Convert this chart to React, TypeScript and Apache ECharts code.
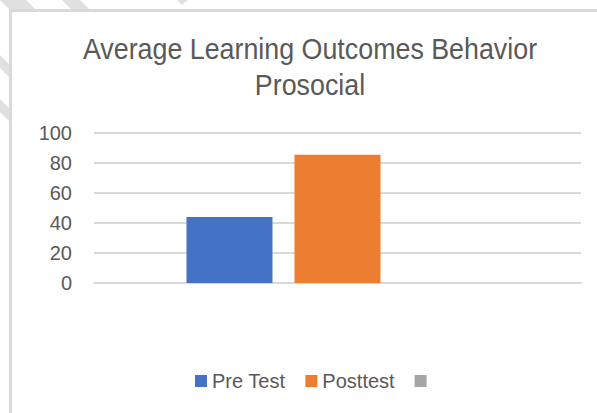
import React, { useEffect, useRef } from "react";
import * as echarts from "echarts";

const categories = ["Prosocial"];
const seriesNames = ["Pre Test", "Posttest", "Series3"];
const preTest = [44];
const postTest = [85.5];
const series3: (number | null)[] = [null];
const yTicks = { min: 0, max: 100, interval: 20 };
const titleLines = ["Average Learning Outcomes Behavior", "Prosocial"];

const TEXT = "#595959";
const GRIDC = "#d9d9d9";
const FONT = "'Liberation Sans', Arial, sans-serif";

export default function App() {
  const ref = useRef<HTMLDivElement>(null);
  useEffect(() => {
    if (!ref.current) return;
    const chart = echarts.init(ref.current, null, { renderer: "svg" });
    const stripe = (pts: number[][]) => ({
      type: "polygon",
      z: -10,
      shape: { points: pts },
      style: { fill: "#e0e0e0" },
    });
    const titleText = (text: string, y: number) => ({
      type: "text",
      z: 10,
      x: 310,
      y,
      scaleX: 0.925,
      style: {
        x: 0,
        y: 0,
        text,
        fill: TEXT,
        font: `29px ${FONT}`,
        textAlign: "center",
        textVerticalAlign: "middle",
      },
    });
    chart.setOption({
      animation: false,
      backgroundColor: "#ffffff",
      textStyle: { fontFamily: FONT },
      graphic: [
        stripe([[0, 0], [26, 0], [36, 10], [10, 10]]),
        stripe([[62, 0], [80, 0], [90, 10], [72, 10]]),
        stripe([[177, 0], [188, 0], [182, 5]]),
        stripe([[0, 55], [0, 68], [10, 78], [10, 65]]),
        stripe([[0, 99], [0, 112], [10, 122], [10, 109]]),
        {
          type: "rect",
          z: -5,
          shape: { x: 10.5, y: 10.5, width: 620, height: 420 },
          style: { fill: "#ffffff", stroke: GRIDC, lineWidth: 3 },
        },
        titleText(titleLines[0], 49),
        titleText(titleLines[1], 85),
      ],
      grid: { left: 94, right: 16, top: 133, bottom: 130, containLabel: false },
      legend: {
        data: seriesNames,
        bottom: 17,
        left: 190,
        icon: "rect",
        itemWidth: 12,
        itemHeight: 12,
        itemGap: 20,
        textStyle: { color: TEXT, fontSize: 20, fontFamily: FONT },
        formatter: (name: string) => (name === "Series3" ? "" : name),
      },
      xAxis: {
        type: "category",
        data: categories,
        axisLine: { show: true, lineStyle: { color: GRIDC, width: 2 } },
        axisTick: { show: false },
        axisLabel: { show: false },
      },
      yAxis: {
        type: "value",
        min: yTicks.min,
        max: yTicks.max,
        interval: yTicks.interval,
        axisLine: { show: false },
        axisTick: { show: false },
        axisLabel: { color: TEXT, fontSize: 20, margin: 22, fontFamily: FONT },
        splitLine: { lineStyle: { color: GRIDC, width: 2 } },
      },
      series: [
        { name: seriesNames[0], type: "bar", data: preTest, barWidth: 86, barGap: "25.6%", itemStyle: { color: "#4472c4" } },
        { name: seriesNames[1], type: "bar", data: postTest, barWidth: 86, barGap: "25.6%", itemStyle: { color: "#ed7d31" } },
        { name: seriesNames[2], type: "bar", data: series3, barWidth: 86, barGap: "25.6%", itemStyle: { color: "#a5a5a5" } },
      ],
    });
    return () => chart.dispose();
  }, []);
  return <div ref={ref} style={{ position: "fixed", left: 0, top: 0, width: 597, height: 413 }} />;
}
